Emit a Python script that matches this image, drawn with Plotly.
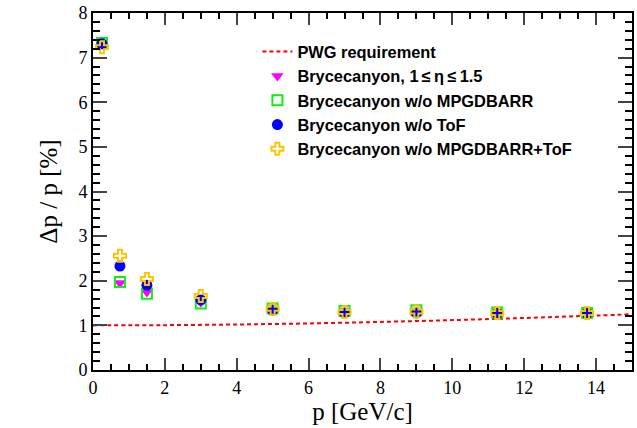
import plotly.graph_objects as go

p_vals = [0.25, 0.75, 1.5, 3, 5, 7, 9, 11.25, 13.75]
tri_vals = [7.30, 1.95, 1.75, 1.52, 1.37, 1.31, 1.31, 1.28, 1.27]
sq_vals = [7.33, 1.97, 1.71, 1.49, 1.38, 1.32, 1.34, 1.29, 1.28]
circ_vals = [7.31, 2.33, 1.90, 1.57, 1.34, 1.28, 1.28, 1.27, 1.27]
cross_vals = [7.23, 2.56, 2.04, 1.66, 1.37, 1.30, 1.31, 1.28, 1.28]

pwg_p = [0, 2, 4, 6, 8, 10, 12, 14, 15]
pwg_vals = [1.0, 1.005, 1.02, 1.044, 1.077, 1.118, 1.166, 1.22, 1.25]

names = ["PWG requirement", "Brycecanyon, 1\u2009\u2264\u2009\u03b7\u2009\u2264\u20091.5", "Brycecanyon w/o MPGDBARR",
         "Brycecanyon w/o ToF", "Brycecanyon w/o MPGDBARR+ToF"]

fig = go.Figure()
fig.add_trace(go.Scatter(x=pwg_p, y=pwg_vals, mode="lines", name=names[0],
                         line=dict(color="#FF0000", width=2, dash="4px,3px", shape="spline")))
fig.add_trace(go.Scatter(x=p_vals, y=tri_vals, mode="markers", name=names[1],
                         marker=dict(symbol="triangle-down", size=11, color="#FF00FF")))
fig.add_trace(go.Scatter(x=p_vals, y=sq_vals, mode="markers", name=names[2],
                         marker=dict(symbol="square-open", size=10, color="#11EE11", line=dict(width=2))))
fig.add_trace(go.Scatter(x=p_vals, y=circ_vals, mode="markers", name=names[3],
                         marker=dict(symbol="circle", size=11, color="#0000FF")))
fig.add_trace(go.Scatter(x=p_vals, y=cross_vals, mode="markers", name=names[4],
                         marker=dict(symbol="cross-open", size=10, color="#FFC400", line=dict(width=2))))

axis_font = dict(family="Liberation Serif", size=18, color="black")
fig.update_xaxes(range=[0, 15], dtick=2, tick0=0, ticks="inside", ticklen=12, tickwidth=2,
                 showline=True, linecolor="black", linewidth=2, mirror="allticks",
                 showgrid=False, zeroline=False, tickfont=axis_font,
                 minor=dict(ticks="inside", ticklen=6, dtick=0.5, tickwidth=1.5, tickcolor="black", showgrid=False),
                 title=dict(text="p [GeV/c]", font=dict(family="Liberation Serif", size=25, color="black"), standoff=2))
fig.update_yaxes(range=[0, 8], dtick=1, tick0=0, ticks="inside", ticklen=14, tickwidth=2,
                 showline=True, linecolor="black", linewidth=2, mirror="allticks",
                 showgrid=False, zeroline=False, tickfont=axis_font,
                 minor=dict(ticks="inside", ticklen=7, dtick=0.2, tickwidth=1.5, tickcolor="black", showgrid=False),
                 title=dict(text="\u0394p / p [%]", font=dict(family="Liberation Serif", size=25, color="black"), standoff=14))

fig.update_layout(width=637, height=428, margin=dict(l=93, r=3, t=12, b=58),
                  plot_bgcolor="white", paper_bgcolor="white",
                  legend=dict(x=0.305, y=0.94, xanchor="left", yanchor="top",
                              bgcolor="rgba(0,0,0,0)",
                              font=dict(family="Liberation Sans", size=16.4, color="black", weight="bold"),
                              tracegroupgap=0))
fig.write_html("out.html")
